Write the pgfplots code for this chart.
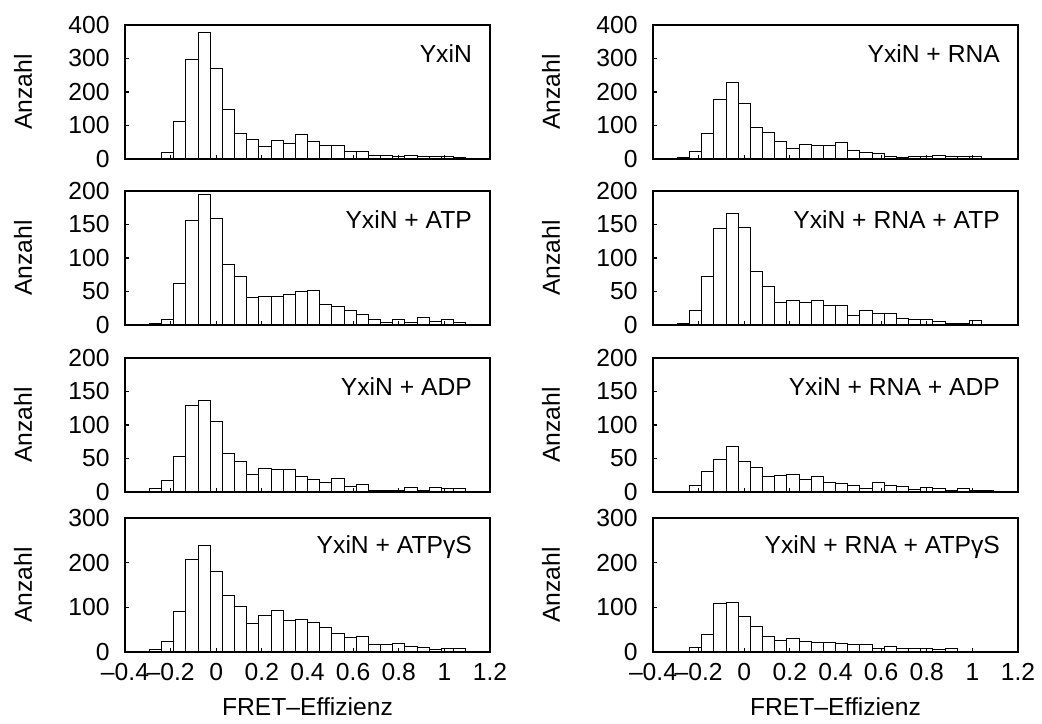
\documentclass[border=0pt]{standalone}
\usepackage{fontspec}
\setmainfont{Liberation Sans}
\usepackage{pgfplots}
\usepackage{pgfplotstable}
\pgfplotsset{compat=1.18}
\pgfplotstableread{
x A B C D E F G H
-0.37333 0 0 0 0 0 0 0 0
-0.32 0 0 0 1 0 0 2 0
-0.26667 2 5 2 3 5 1 5 0
-0.21333 20 23 9 22 18 10 24 11
-0.16 112 77 62 73 53 31 90 40
-0.10667 298 178 156 144 129 49 208 109
-0.05333 379 228 195 167 137 68 238 112
0 270 165 159 146 106 46 181 80
0.05333 148 93 91 80 58 37 127 57
0.10667 76 79 73 57 46 24 101 36
0.16 59 52 41 34 27 25 64 27
0.21333 37 31 42 36 35 27 81 31
0.26667 55 45 43 34 34 19 94 24
0.32 48 41 45 37 33 24 70 22
0.37333 73 41 50 29 24 14 73 22
0.42667 54 50 52 29 19 13 67 20
0.48 41 27 30 14 15 10 56 16
0.53333 41 19 28 22 21 6 41 17
0.58667 23 17 22 17 9 14 32 8
0.64 23 8 16 17 11 10 34 12
0.69333 12 6 9 10 3 9 17 7
0.74667 11 8 4 8 2 4 18 9
0.8 8 8 9 8 3 7 20 7
0.85333 10 11 4 5 7 6 12 5
0.90667 7 8 11 3 2 2 11 7
0.96 8 7 5 2 7 6 6 1
1.01333 8 8 8 7 6 2 8 2
1.06667 6 2 4 1 5 3 7 1
1.12 0 0 0 0 1 1 0 0
1.17333 0 0 0 0 0 0 0 0
}\data
\pgfplotsset{
  hist/.style={
    scale only axis, width=273.75pt, height=100.5pt,
    xmin=-0.4, xmax=1.2, ymin=0,
    axis on top,
    tick align=inside, xtick pos=left, ytick pos=left,
    major tick length=3pt,
    xtick={-0.4,-0.2,0,0.2,0.4,0.6,0.8,1,1.2},
    xticklabels={},
    axis line style={line width=1pt},
    every tick/.style={black, line width=0.8pt},
    /pgf/number format/assume math mode=true,
    tick label style={font=\fontsize{18.5}{22}\selectfont},
    yticklabel style={xshift=-8pt},
    xticklabel style={yshift=-5pt},
    label style={font=\fontsize{18.5}{22}\selectfont},
    ylabel=Anzahl,
    ylabel style={at={(axis description cs:-0.2795,0.5)}, anchor=center},
    xlabel style={at={(axis description cs:0.5,-0.41)}, anchor=center},
  },
  bottomrow/.style={
    xticklabels={–0.4,–0.2,0,0.2,0.4,0.6,0.8,1,1.2},
    xlabel={FRET–Effizienz},
  },
  bars/.style={ybar, bar width=0.053333, bar shift=0pt, fill=white, draw=black, line width=0.6pt},
}
\tikzset{plab/.style={anchor=east, font=\fontsize{18.5}{22}\selectfont, inner sep=0pt}}
\begin{document}
\begin{tikzpicture}
\path[use as bounding box] (0,0) rectangle (781.5pt,543pt);
% row 1
\begin{axis}[hist, at={(93.75pt,423.75pt)}, anchor=south west, ymax=400, ytick={0,100,200,300,400}]
\addplot[bars] table[x=x,y=A]{\data};
\node[plab] at (rel axis cs:0.951,0.785) {YxiN};
\end{axis}
\begin{axis}[hist, at={(489.75pt,423.75pt)}, anchor=south west, ymax=400, ytick={0,100,200,300,400}]
\addplot[bars] table[x=x,y=B]{\data};
\node[plab] at (rel axis cs:0.951,0.785) {YxiN + RNA};
\end{axis}
% row 2
\begin{axis}[hist, at={(93.75pt,299.25pt)}, anchor=south west, ymax=200, ytick={0,50,100,150,200}]
\addplot[bars] table[x=x,y=C]{\data};
\node[plab] at (rel axis cs:0.951,0.785) {YxiN + ATP};
\end{axis}
\begin{axis}[hist, at={(489.75pt,299.25pt)}, anchor=south west, ymax=200, ytick={0,50,100,150,200}]
\addplot[bars] table[x=x,y=D]{\data};
\node[plab] at (rel axis cs:0.951,0.785) {YxiN + RNA + ATP};
\end{axis}
% row 3
\begin{axis}[hist, at={(93.75pt,174pt)}, anchor=south west, ymax=200, ytick={0,50,100,150,200}]
\addplot[bars] table[x=x,y=E]{\data};
\node[plab] at (rel axis cs:0.951,0.785) {YxiN + ADP};
\end{axis}
\begin{axis}[hist, at={(489.75pt,174pt)}, anchor=south west, ymax=200, ytick={0,50,100,150,200}]
\addplot[bars] table[x=x,y=F]{\data};
\node[plab] at (rel axis cs:0.951,0.785) {YxiN + RNA + ADP};
\end{axis}
% row 4
\begin{axis}[hist, bottomrow, at={(93.75pt,54pt)}, anchor=south west, ymax=300, ytick={0,100,200,300}]
\addplot[bars] table[x=x,y=G]{\data};
\node[plab] at (rel axis cs:0.951,0.785) {YxiN + ATPγS};
\end{axis}
\begin{axis}[hist, bottomrow, at={(489.75pt,54pt)}, anchor=south west, ymax=300, ytick={0,100,200,300}]
\addplot[bars] table[x=x,y=H]{\data};
\node[plab] at (rel axis cs:0.951,0.785) {YxiN + RNA + ATPγS};
\end{axis}
\end{tikzpicture}
\end{document}
